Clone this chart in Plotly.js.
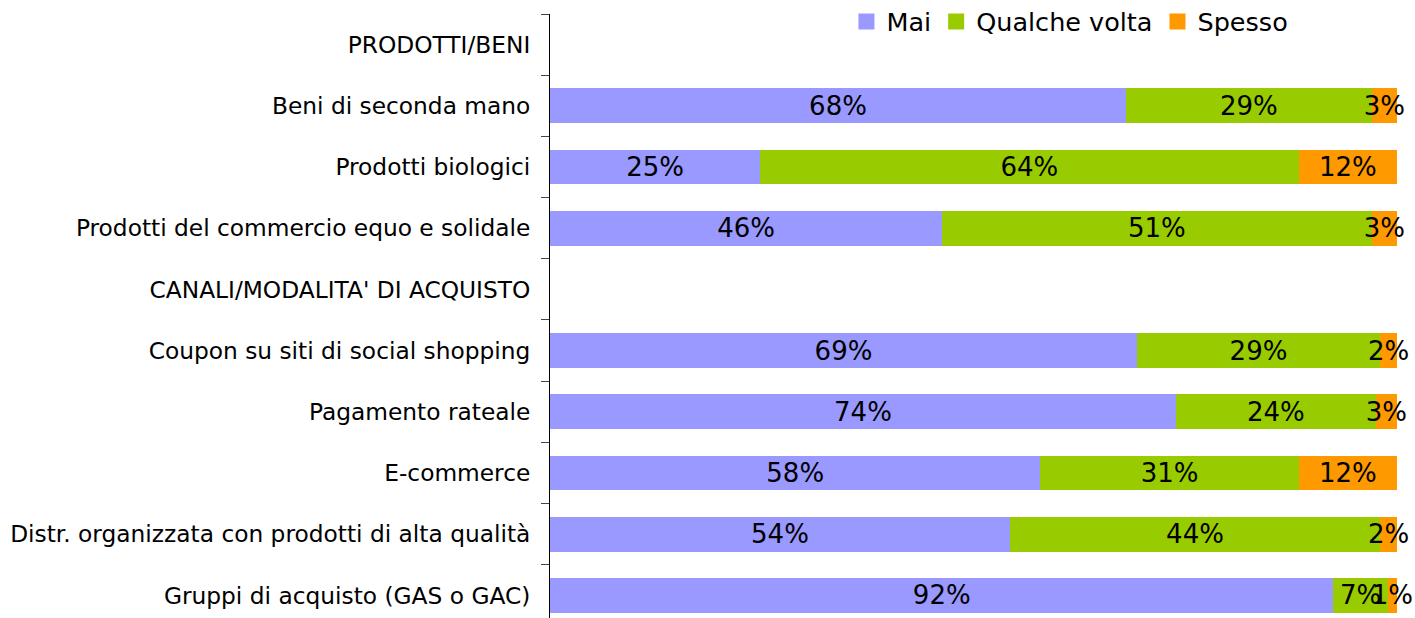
<!DOCTYPE html>
<html>
<head>
<meta charset="utf-8">
<script src="https://cdn.plot.ly/plotly-3.0.1.min.js"></script>
<style>html,body{margin:0;padding:0;background:#fff;}#chart{width:1415px;height:618px;}</style>
</head>
<body>
<div id="chart"></div>
<script>
var categories = [
  "PRODOTTI/BENI",
  "Beni di seconda mano",
  "Prodotti biologici",
  "Prodotti del commercio equo e solidale",
  "CANALI/MODALITA' DI ACQUISTO",
  "Coupon su siti di social shopping",
  "Pagamento rateale",
  "E-commerce",
  "Distr. organizzata con prodotti di alta qualità",
  "Gruppi di acquisto (GAS o GAC)"
];
var seriesNames = ["Mai", "Qualche volta", "Spesso"];
var mai     = [null, 68.0, 24.8, 46.3, null, 69.3, 73.9, 57.9, 54.3, 92.5];
var qualche = [null, 29.0, 63.6, 50.7, null, 28.7, 23.6, 30.5, 43.7, 6.4];
var spesso  = [null,  3.0, 11.6,  3.0, null,  2.0,  2.5, 11.6,  2.0, 1.1];
var maiLabels     = ["", "68%", "25%", "46%", "", "69%", "74%", "58%", "54%", "92%"];
var qualcheLabels = ["", "29%", "64%", "51%", "", "29%", "24%", "31%", "44%", "7%"];
var spessoLabels  = ["", "3%", "12%", "3%", "", "2%", "3%", "12%", "2%", "1%"];
var colors = ["#9999FF", "#99CC00", "#FF9900"];

var FONT = "'DejaVu Sans', sans-serif";
function mk(vals, labels, name, color) {
  return {
    type: "bar", orientation: "h", y: categories, x: vals, name: name,
    marker: {color: color}, width: 0.57, showlegend: false,
    text: labels, textposition: "inside", insidetextanchor: "middle",
    constraintext: "none", textangle: 0, cliponaxis: false,
    textfont: {family: FONT, size: 26, color: "#000"},
    hoverinfo: "skip"
  };
}
function legendEntry(name, color) {
  return {
    type: "scatter", mode: "markers", x: [null], y: [null], name: name,
    marker: {symbol: "square", size: 20, color: color}, showlegend: true, hoverinfo: "skip"
  };
}
var data = [
  mk(mai, maiLabels, seriesNames[0], colors[0]),
  mk(qualche, qualcheLabels, seriesNames[1], colors[1]),
  mk(spesso, spessoLabels, seriesNames[2], colors[2]),
  legendEntry(seriesNames[0], colors[0]),
  legendEntry(seriesNames[1], colors[1]),
  legendEntry(seriesNames[2], colors[2])
];
var layout = {
  width: 1415, height: 618,
  margin: {l: 550, r: 18, t: 14, b: 0, pad: 0, autoexpand: false},
  barmode: "stack",
  paper_bgcolor: "#fff", plot_bgcolor: "#fff",
  font: {family: FONT, color: "#000"},
  showlegend: true,
  legend: {orientation: "h", x: 0.35, xanchor: "left", y: 0.987, yanchor: "middle",
    font: {family: FONT, size: 25.5, color: "#000"}, bgcolor: "rgba(0,0,0,0)",
    traceorder: "normal", itemwidth: 30},
  xaxis: {range: [0, 100], visible: false, fixedrange: true},
  yaxis: {type: "category", range: [9.37, -0.5], showline: true, linecolor: "#000", linewidth: 1,
    ticks: "outside", ticklen: 8, tickcolor: "#444", tickson: "boundaries",
    showgrid: false, zeroline: false, ticklabelstandoff: 14,
    tickfont: {family: FONT, size: 23.3, color: "#000"}}
};
Plotly.newPlot("chart", data, layout, {displayModeBar: false, staticPlot: true});
</script>
</body>
</html>
